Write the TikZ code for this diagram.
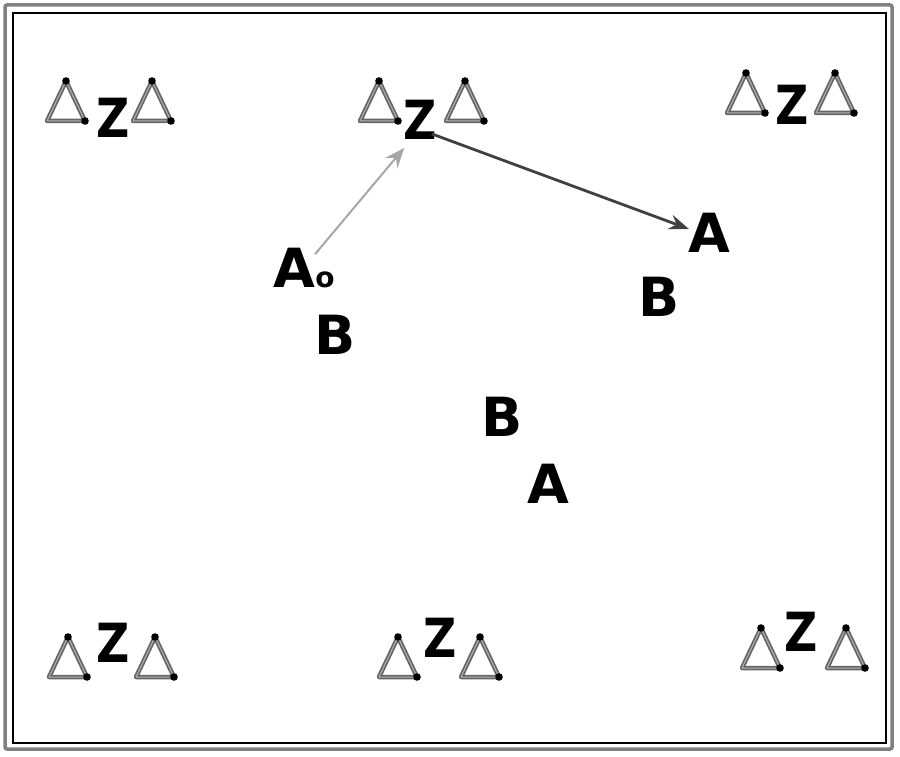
\documentclass[tikz,border=0pt]{standalone}
\usepackage{fontspec}
\setmainfont{DejaVu Sans}
\usetikzlibrary{arrows.meta}
\tikzset{
  letter/.style={inner sep=0pt, font=\fontsize{54}{54}\bfseries\selectfont, text=black},
  zletter/.style={letter, xscale=0.85},
  warn/.pic={
    \coordinate (-top) at (0,-20);
    \coordinate (-bl) at (-19,20);
    \coordinate (-br) at (19,20);
    \draw[line width=4.5pt, draw=black!60, line join=round] (-top) -- (-bl) -- (-br) -- cycle;
    \draw[line width=1pt, draw=black!30, line join=round] (-top) -- (-bl) -- (-br) -- cycle;
    \fill[black] (-top) circle (3.8);
    \fill[black] (-br) circle (3.8);
  },
  lightarrow/.style={draw=black!35, line width=2pt, -{Stealth[length=20pt,width=16pt,inset=7pt]}},
  darkarrow/.style={draw=black!75, line width=2.8pt, -{Stealth[length=20pt,width=15pt,inset=7pt]}}
}
\begin{document}
\begin{tikzpicture}[x=1pt,y=-1pt]
\useasboundingbox (0,0) rectangle (900,757);
% frame
\draw[draw=black!50, line width=3.5pt, rounded corners=2pt] (5,5) rectangle (892,749);
\draw[draw=black, line width=1.3pt] (13,13) rectangle (886,743);

% group 1 (top left)
\pic (t1a) at (66,101) {warn};
\pic (t1b) at (152,101) {warn};
\node[zletter] (z1) at (113,118) {Z};
% group 2 (top middle)
\pic (t2a) at (379,101) {warn};
\pic (t2b) at (465,101) {warn};
\node[zletter] (z2) at (420,120) {Z};
% group 3 (top right)
\pic (t3a) at (746,93) {warn};
\pic (t3b) at (835,93) {warn};
\node[zletter] (z3) at (792,105) {Z};
% group 4 (bottom left)
\pic (t4a) at (68,657) {warn};
\pic (t4b) at (155,657) {warn};
\node[zletter] (z4) at (113,643) {Z};
% group 5 (bottom middle)
\pic (t5a) at (398,657) {warn};
\pic (t5b) at (480,657) {warn};
\node[zletter] (z5) at (440,638) {Z};
% group 6 (bottom right)
\pic (t6a) at (761,648) {warn};
\pic (t6b) at (846,648) {warn};
\node[zletter] (z6) at (801,632) {Z};

% letters
\node[letter] (a0) at (294,268) {A};
\node[inner sep=0pt, font=\fontsize{28}{28}\bfseries\selectfont] (a0sub) at (325,280) {o};
\node[letter] (b1) at (335,335) {B};
\node[letter] (a1) at (709,233) {A};
\node[letter] (b2) at (659,297) {B};
\node[letter] (b3) at (502,417) {B};
\node[letter] (a2) at (548,484) {A};

% arrows
\draw[lightarrow] ([shift={(0,6)}]a0.north east) -- ([shift={(1,8)}]z2.south west);
\draw[darkarrow] ([shift={(-5,-6)}]z2.south east) -- ([shift={(1,-4)}]a1.west);
\end{tikzpicture}
\end{document}
